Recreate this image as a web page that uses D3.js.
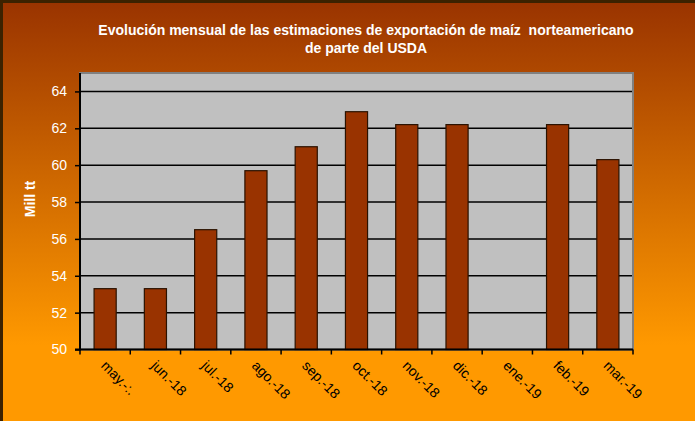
<!DOCTYPE html>
<html>
<head>
<meta charset="utf-8">
<script src="https://cdn.jsdelivr.net/npm/d3@7"></script>
<style>
  html, body { margin: 0; padding: 0; background: #fff; }
  svg { display: block; font-family: "Liberation Sans", Arial, sans-serif; }
</style>
</head>
<body>
<svg id="chart" width="695" height="421"></svg>
<script>
const categories = ["may.-:.", "jun.-18", "jul.-18", "ago.-18", "sep.-18", "oct.-18", "nov.-18", "dic.-18", "ene.-19", "feb.-19", "mar.-19"];
const values = [53.3, 53.3, 56.5, 59.7, 61.0, 62.9, 62.2, 62.2, null, 62.2, 60.3];
const yTicks = [50, 52, 54, 56, 58, 60, 62, 64];
const titleLines = ["Evolución mensual de las estimaciones de exportación de maíz  norteamericano", "de parte del USDA"];
const yLabel = "Mill tt";

const W = 695, H = 421;
const svg = d3.select("#chart");
const defs = svg.append("defs");
const grad = defs.append("linearGradient").attr("id", "bg").attr("x1", 0).attr("y1", 0).attr("x2", 0).attr("y2", 1);
grad.append("stop").attr("offset", "0%").attr("stop-color", "#993300");
grad.append("stop").attr("offset", "82%").attr("stop-color", "#FF9900");
grad.append("stop").attr("offset", "100%").attr("stop-color", "#FF9900");

svg.append("rect").attr("width", W).attr("height", H).attr("fill", "url(#bg)");
// outer frame (left and top dark edges)
svg.append("rect").attr("x", 1.5).attr("y", 1.5).attr("width", W + 10).attr("height", H + 10)
  .attr("fill", "none").attr("stroke", "#3c2200").attr("stroke-width", 3);

const m = { left: 80, top: 73 };
const x = d3.scaleBand().domain(categories).range([m.left, 633]).paddingInner(0.56).paddingOuter(0.28);
const xb = d3.scaleBand().domain(categories).range([m.left, 633]);
const y = d3.scaleLinear().domain([50, 65]).range([349.5, 73]);

// plot area
svg.append("rect").attr("x", m.left).attr("y", y(65)).attr("width", 633 - m.left).attr("height", y(50) - y(65))
  .attr("fill", "#C0C0C0").attr("stroke", "#808080").attr("stroke-width", 2);

// gridlines
svg.append("g").selectAll("line").data(yTicks.filter(d => d > 50)).join("line")
  .attr("x1", m.left).attr("x2", 632).attr("y1", d => y(d)).attr("y2", d => y(d))
  .attr("stroke", "#000").attr("stroke-width", 1.5);

// bars
svg.append("g").selectAll("rect").data(categories.map((c, i) => ({ c, v: values[i] })).filter(d => d.v != null)).join("rect")
  .attr("x", d => x(d.c)).attr("width", x.bandwidth())
  .attr("y", d => y(d.v)).attr("height", d => y(50) - y(d.v))
  .attr("fill", "#993300").attr("stroke", "#2a1200").attr("stroke-width", 1.2);

// y axis
const yAxis = svg.append("g").attr("transform", `translate(${m.left},0)`)
  .call(d3.axisLeft(y).tickValues(yTicks).tickSize(5).tickPadding(8));
yAxis.select(".domain").attr("stroke", "#000").attr("stroke-width", 2).attr("d", `M-5,${y(50)}H0V${y(65)}`);
yAxis.selectAll(".tick line").attr("stroke", "#000").attr("stroke-width", 1.5);
yAxis.selectAll(".tick text").attr("fill", "#fff").attr("font-size", 14).attr("font-family", "Liberation Sans, Arial, sans-serif");

// x axis
const xAxis = svg.append("g").attr("transform", `translate(0,${y(50)})`)
  .call(d3.axisBottom(xb).tickSize(0).tickFormat(""));
xAxis.select(".domain").attr("stroke", "#000").attr("stroke-width", 2).attr("d", `M${m.left},0H633`);
svg.append("g").selectAll("line").data(categories.concat(["end"])).join("line")
  .attr("x1", (d, i) => m.left + i * xb.step()).attr("x2", (d, i) => m.left + i * xb.step())
  .attr("y1", y(50)).attr("y2", y(50) + 5).attr("stroke", "#000").attr("stroke-width", 1.5);

svg.append("g").selectAll("text").data(categories).join("text")
  .attr("transform", d => `translate(${xb(d) + xb.bandwidth() / 2 - 5},${y(50) + 17}) rotate(45)`)
  .attr("font-size", 14).attr("fill", "#000").text(d => d);

// title
svg.append("g").selectAll("text").data(titleLines).join("text")
  .attr("x", 366).attr("y", (d, i) => 35 + i * 18)
  .attr("text-anchor", "middle").attr("font-weight", "bold").attr("font-size", 14)
  .style("white-space", "pre")
  .attr("fill", "#fff").text(d => d);

// y label
svg.append("text").attr("transform", "translate(35,199) rotate(-90)")
  .attr("text-anchor", "middle").attr("font-weight", "bold").attr("font-size", 14)
  .attr("fill", "#fff").text(yLabel);
</script>
</body>
</html>
